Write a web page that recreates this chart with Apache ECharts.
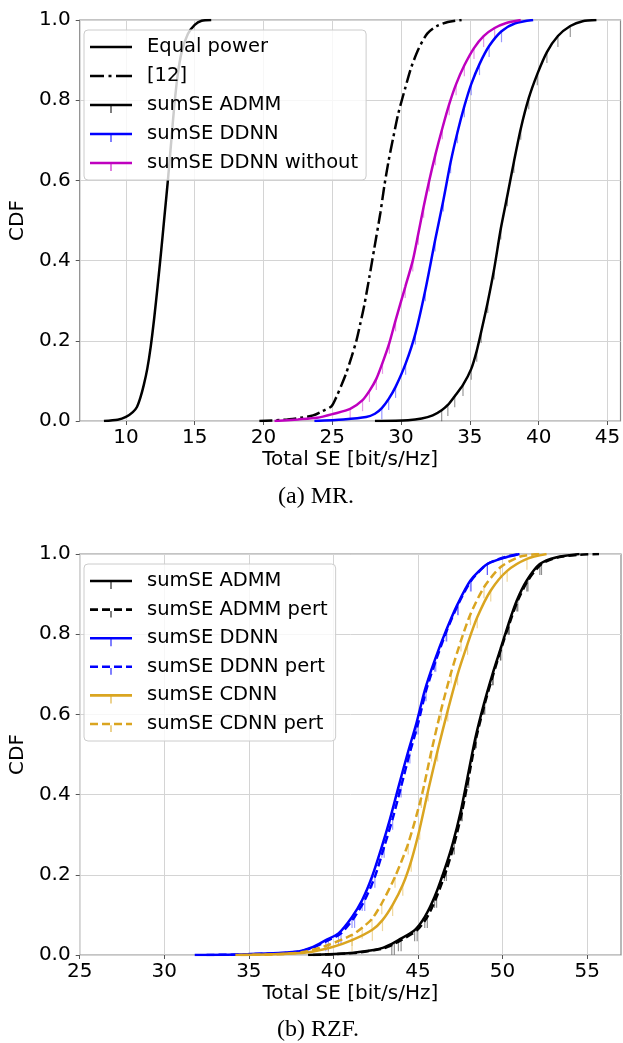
<!DOCTYPE html>
<html>
<head>
<meta charset="utf-8">
<script src="https://cdn.jsdelivr.net/npm/echarts@6/dist/echarts.min.js"></script>
<style>
  html, body { margin: 0; padding: 0; background: #fff; }
  #main { width: 623px; height: 1043px; }
</style>
</head>
<body>
<div id="main"></div>
<script>
// (a) MR. -- [Total SE, CDF] pairs
const mrEqualPower = [[8.4,0],[9.4,0.003],[10,0.01],[10.5,0.022],[10.8,0.035],[11.05,0.058],[11.3,0.09],[11.55,0.13],[11.8,0.185],[12.05,0.255],[12.3,0.335],[12.55,0.42],[12.8,0.51],[13.05,0.6],[13.3,0.7],[13.5,0.78],[13.75,0.86],[14.05,0.92],[14.5,0.965],[15.0,0.988],[15.5,0.998],[16.2,1]];
const mrRef12 = [[19.7,0],[21.5,0.003],[22.7,0.008],[23.6,0.014],[24.3,0.025],[24.95,0.037],[25.3,0.06],[25.65,0.088],[26.0,0.118],[26.4,0.16],[26.75,0.2],[27.05,0.245],[27.35,0.293],[27.7,0.36],[28.05,0.43],[28.5,0.52],[28.8,0.59],[29.1,0.65],[29.45,0.71],[29.8,0.767],[30.3,0.83],[30.75,0.883],[31.3,0.93],[31.9,0.966],[32.6,0.985],[33.4,0.995],[34.4,1]];
const mrAdmm = [[28.1,0],[30.5,0.002],[31.5,0.006],[32.3,0.014],[32.95,0.027],[33.4,0.04],[33.9,0.062],[34.5,0.09],[35.1,0.13],[35.5,0.175],[35.82,0.222],[36.3,0.297],[36.77,0.38],[37.25,0.48],[37.73,0.563],[38.2,0.646],[38.7,0.729],[39.28,0.805],[39.9,0.865],[40.6,0.92],[41.4,0.96],[42.3,0.985],[43.2,0.997],[44.2,1]];
const mrDdnn = [[23.7,0],[25.8,0.004],[27.46,0.01],[28.1,0.018],[28.6,0.032],[29.1,0.055],[29.6,0.085],[30.33,0.143],[31.04,0.218],[31.76,0.326],[32.47,0.45],[33.07,0.55],[33.6,0.645],[34.1,0.72],[34.6,0.785],[35.1,0.84],[35.7,0.89],[36.4,0.935],[37.3,0.972],[38.3,0.992],[39.6,1]];
const mrDdnnWithout = [[20.8,0],[22.5,0.004],[23.9,0.008],[25.1,0.018],[26.3,0.03],[27.2,0.052],[27.7,0.075],[28.2,0.105],[28.65,0.145],[29.15,0.195],[29.6,0.251],[30.3,0.334],[30.85,0.4],[31.25,0.467],[31.64,0.534],[32.05,0.6],[32.5,0.665],[33.0,0.73],[33.5,0.79],[34.0,0.84],[34.6,0.887],[35.3,0.93],[36.0,0.96],[36.8,0.98],[37.6,0.992],[38.7,1]];

// (b) RZF.
const rzfAdmm = [[38.5,0],[41.0,0.005],[42.28,0.012],[42.86,0.017],[43.45,0.028],[43.84,0.037],[44.8,0.062],[45.4,0.095],[45.98,0.145],[46.56,0.212],[47.05,0.278],[47.54,0.361],[47.93,0.444],[48.4,0.543],[48.9,0.627],[49.4,0.7],[49.87,0.762],[50.35,0.826],[50.84,0.884],[51.43,0.934],[52.2,0.975],[53.2,0.992],[54.55,1]];
const rzfAdmmPert = [[38.8,0],[41.2,0.005],[42.4,0.012],[43.0,0.017],[43.6,0.028],[44.0,0.037],[44.95,0.062],[45.55,0.095],[46.1,0.145],[46.68,0.212],[47.15,0.278],[47.62,0.361],[48.0,0.444],[48.45,0.543],[48.95,0.627],[49.45,0.7],[49.9,0.762],[50.4,0.826],[50.9,0.884],[51.5,0.934],[52.3,0.975],[53.3,0.992],[54.5,0.998],[55.7,1]];
const rzfDdnn = [[31.8,0],[34.9,0.002],[37.8,0.008],[38.8,0.02],[39.55,0.037],[40.3,0.054],[41.1,0.095],[41.7,0.137],[42.28,0.195],[42.86,0.27],[43.35,0.34],[43.85,0.42],[44.4,0.505],[44.9,0.577],[45.4,0.66],[45.98,0.734],[46.66,0.809],[47.34,0.875],[48.1,0.934],[49.1,0.975],[50.3,0.993],[51.0,1]];
const rzfDdnnPert = [[32.5,0],[35.2,0.002],[37.9,0.008],[38.9,0.02],[39.7,0.037],[40.45,0.054],[41.25,0.095],[41.85,0.137],[42.45,0.195],[43.0,0.27],[43.5,0.34],[44.0,0.42],[44.52,0.505],[45.0,0.577],[45.48,0.66],[46.05,0.734],[46.7,0.809],[47.38,0.875],[48.15,0.934],[49.1,0.975],[50.2,0.993],[51.0,1]];
const rzfCdnn = [[34.2,0],[36.5,0.002],[38.4,0.006],[39.95,0.02],[41.1,0.037],[42.3,0.063],[42.9,0.087],[43.5,0.125],[44.1,0.175],[44.6,0.235],[45.1,0.315],[45.6,0.41],[46.16,0.51],[46.76,0.61],[47.34,0.7],[47.93,0.776],[48.5,0.842],[49.3,0.909],[50.27,0.958],[51.44,0.988],[52.6,1]];
const rzfCdnnPert = [[34.5,0],[36.8,0.002],[38.3,0.008],[39.7,0.025],[41.1,0.05],[41.7,0.068],[42.28,0.09],[42.86,0.129],[43.64,0.195],[44.42,0.278],[45.2,0.394],[45.8,0.51],[46.37,0.612],[46.96,0.705],[47.54,0.784],[48.1,0.85],[48.9,0.917],[49.87,0.967],[51.0,0.993],[52.2,1]];

const mrTicks = [10, 15, 20, 25, 30, 35, 40, 45];
const rzfTicks = [25, 30, 35, 40, 45, 50, 55];

const FONT = 'DejaVu Sans';

// legend handles: line + errorbar tick, drawn in a 42x16 box
const anchor = 'M0,0h0.01v0.01h-0.01zM41.99,15.99h0.01v0.01h-0.01z';
const tick = 'M20.5,9.3h1v6.7h-1z';
const solid = 'M0,6.7h42v2.6h-42z';
const dashed = 'M0,6.7h8v2.6h-8zM12,6.7h8v2.6h-8zM24,6.7h8v2.6h-8zM36,6.7h6v2.6h-6z';
const dashdot = 'M0,6.7h14v2.6h-14zM18.5,6.7h3v2.6h-3zM26,6.7h16v2.6h-16z';
const icon = (p, t) => 'path://' + anchor + p + (t ? tick : '');

function line(name, data, color, type, xi) {
  return {
    name: name, type: 'line', data: data, xAxisIndex: xi, yAxisIndex: xi,
    symbol: 'none', smooth: 0.25, z: 3, silent: true,
    color: color,
    itemStyle: { color: color },
    lineStyle: { color: color, width: 2.5, type: type, cap: 'butt' }
  };
}

function errTicks(name, data, color, xi) {
  return {
    name: name + ' err', type: 'scatter', xAxisIndex: xi, yAxisIndex: xi,
    data: data.filter(d => d[1] > 0.02 && d[1] < 0.99),
    symbol: 'rect', symbolSize: [1.2, 11], symbolOffset: [0, 5.5],
    itemStyle: { color: color }, silent: true, z: 1
  };
}

function xAxis(gi, min, max, ticks) {
  return {
    type: 'value', gridIndex: gi, min: min, max: max,
    name: 'Total SE [bit/s/Hz]', nameLocation: 'middle', nameGap: 29,
    nameTextStyle: { fontFamily: FONT, fontSize: 20, color: '#000' },
    axisLine: { show: false },
    axisTick: { show: true, length: 4, lineStyle: { color: '#555' }, customValues: ticks },
    axisLabel: { fontFamily: FONT, fontSize: 20, color: '#000', margin: 7, customValues: ticks },
    splitLine: { show: true, lineStyle: { color: '#d4d4d4', width: 1 } }
  };
}

function yAxis(gi) {
  return {
    type: 'value', gridIndex: gi, min: 0, max: 1, interval: 0.2,
    name: 'CDF', nameLocation: 'middle', nameGap: 31,
    nameTextStyle: { fontFamily: FONT, fontSize: 20, color: '#000' },
    axisLine: { show: false },
    axisTick: { show: true, length: 4, lineStyle: { color: '#555' } },
    axisLabel: { fontFamily: FONT, fontSize: 20, color: '#000', margin: 9, formatter: v => v.toFixed(1) },
    splitLine: { show: true, lineStyle: { color: '#d4d4d4', width: 1 } }
  };
}

function legend(top, gap, items) {
  return {
    orient: 'vertical', left: 84, top: top,
    itemWidth: 42, itemHeight: 16, itemGap: gap,
    padding: [7, 8, 7, 6],
    backgroundColor: 'rgba(255,255,255,0.8)',
    borderColor: '#cccccc', borderWidth: 1, borderRadius: 4,
    selectedMode: false,
    itemStyle: { borderWidth: 0 },
    textStyle: { fontFamily: FONT, fontSize: 19.5, lineHeight: 20, color: '#000', padding: [0, 0, 0, 10] },
    data: items
  };
}

const chart = echarts.init(document.getElementById('main'), null, { renderer: 'canvas' });

chart.setOption({
  animation: false,
  backgroundColor: '#fff',
  grid: [
    { left: 73, top: 20, width: 548, height: 401, show: true, borderColor: '#8a8a8a', borderWidth: 1.2 },
    { left: 73, top: 554, width: 548, height: 401, show: true, borderColor: '#8a8a8a', borderWidth: 1.2 }
  ],
  xAxis: [xAxis(0, 6.64, 45.95, mrTicks), xAxis(1, 25, 57, rzfTicks)],
  yAxis: [yAxis(0), yAxis(1)],
  legend: [
    legend(30, 9, [
      { name: 'Equal power', icon: icon(solid, false) },
      { name: '[12]', icon: icon(dashdot, false) },
      { name: 'sumSE ADMM', icon: icon(solid, true) },
      { name: 'sumSE DDNN', icon: icon(solid, true) },
      { name: 'sumSE DDNN without', icon: icon(solid, true) }
    ]),
    legend(564, 8.6, [
      { name: 'sumSE ADMM', icon: icon(solid, true) },
      { name: 'sumSE ADMM pert', icon: icon(dashed, true) },
      { name: 'sumSE DDNN', icon: icon(solid, true) },
      { name: 'sumSE DDNN pert', icon: icon(dashed, true) },
      { name: 'sumSE CDNN', icon: icon(solid, true) },
      { name: 'sumSE CDNN pert', icon: icon(dashed, true) }
    ])
  ],
  graphic: [
    { type: 'text', x: 316, y: 497, style: { text: '(a) MR.', font: '24px "Liberation Serif"', fill: '#000', align: 'center', verticalAlign: 'middle' } },
    { type: 'text', x: 318, y: 1030, style: { text: '(b) RZF.', font: '24px "Liberation Serif"', fill: '#000', align: 'center', verticalAlign: 'middle' } }
  ],
  series: [
    line('Equal power', mrEqualPower, '#000000', 'solid', 0),
    line('[12]', mrRef12, '#000000', [13, 4, 3, 4], 0),
    line('sumSE ADMM', mrAdmm, '#000000', 'solid', 0),
    errTicks('sumSE ADMM', mrAdmm, 'rgba(0,0,0,0.5)', 0),
    line('sumSE DDNN', mrDdnn, '#0000ff', 'solid', 0),
    errTicks('sumSE DDNN', mrDdnn, 'rgba(0,0,255,0.5)', 0),
    line('sumSE DDNN without', mrDdnnWithout, '#bf00bf', 'solid', 0),
    errTicks('sumSE DDNN without', mrDdnnWithout, 'rgba(191,0,191,0.5)', 0),

    line('sumSE ADMM', rzfAdmm, '#000000', 'solid', 1),
    errTicks('sumSE ADMM b', rzfAdmm, 'rgba(0,0,0,0.55)', 1),
    line('sumSE ADMM pert', rzfAdmmPert, '#000000', [8, 4], 1),
    errTicks('sumSE ADMM pert', rzfAdmmPert, 'rgba(0,0,0,0.55)', 1),
    line('sumSE DDNN', rzfDdnn, '#0000ff', 'solid', 1),
    errTicks('sumSE DDNN b', rzfDdnn, 'rgba(0,0,255,0.5)', 1),
    line('sumSE DDNN pert', rzfDdnnPert, '#0000ff', [8, 4], 1),
    errTicks('sumSE DDNN pert', rzfDdnnPert, 'rgba(0,0,255,0.5)', 1),
    line('sumSE CDNN', rzfCdnn, '#daa520', 'solid', 1),
    errTicks('sumSE CDNN', rzfCdnn, 'rgba(218,165,32,0.55)', 1),
    line('sumSE CDNN pert', rzfCdnnPert, '#daa520', [8, 4], 1),
    errTicks('sumSE CDNN pert', rzfCdnnPert, 'rgba(218,165,32,0.55)', 1)
  ]
});
</script>
</body>
</html>
